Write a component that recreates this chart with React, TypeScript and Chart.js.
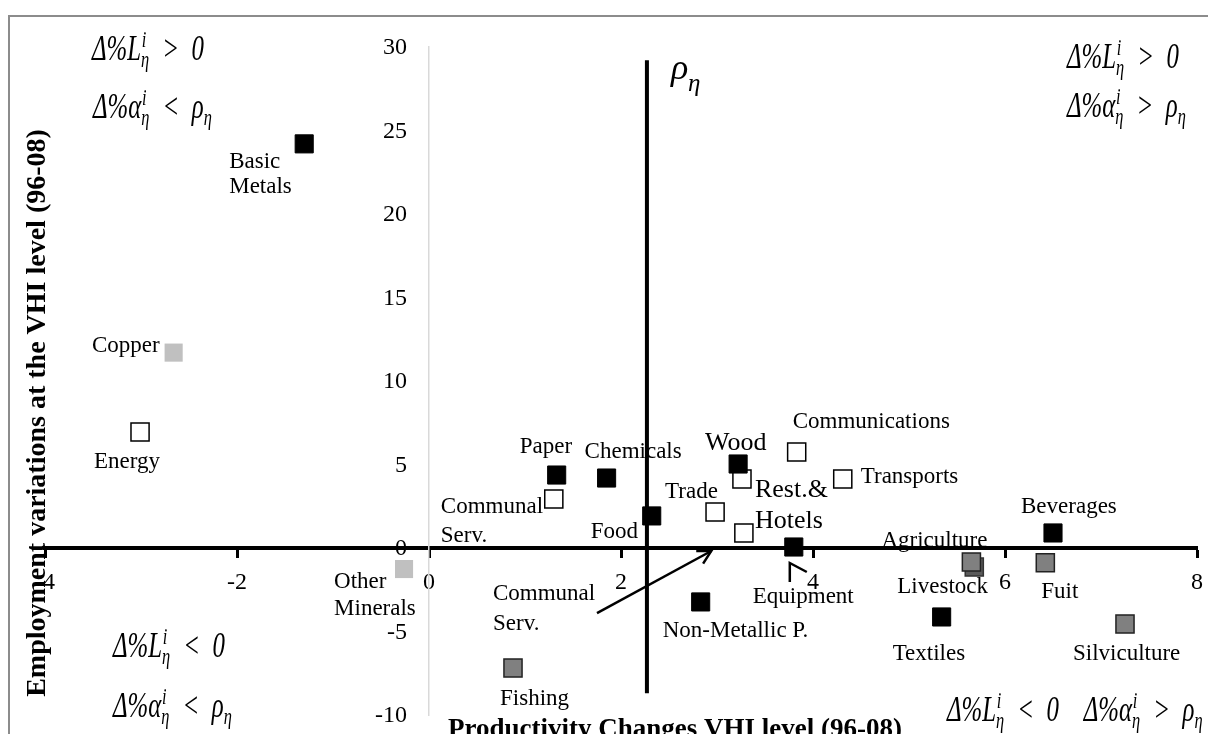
import React, { useEffect, useRef } from "react";
import { Chart, registerables } from "chart.js";
Chart.register(...registerables);

// ---------- DATA ----------
const blackNames = ["Basic Metals", "Paper", "Chemicals", "Food", "Wood", "Equipment", "Non-Metallic P.", "Beverages", "Textiles"];
const blackX = [-1.3, 1.33, 1.85, 2.32, 3.22, 3.8, 2.83, 6.5, 5.34];
const blackY = [24.2, 4.37, 4.19, 1.92, 5.03, 0.06, -3.23, 0.9, -4.13];

const whiteNames = ["Energy", "Communal Serv.", "Trade", "Rest.&Hotels", "Communal Serv. II", "Communications", "Transports"];
const whiteX = [-3.01, 1.3, 2.98, 3.26, 3.28, 3.83, 4.31];
const whiteY = [6.95, 2.93, 2.16, 4.13, 0.9, 5.75, 4.13];

const grayNames = ["Agriculture", "Fuit", "Silviculture", "Fishing"];
const grayX = [5.65, 6.42, 7.25, 0.875];
const grayY = [-0.84, -0.88, -4.55, -7.19];

const darkNames = ["Livestock"];
const darkX = [5.68];
const darkY = [-1.14];

const lightNames = ["Copper", "Other Minerals"];
const lightX = [-2.66, -0.26];
const lightY = [11.7, -1.26];

const rhoX = 2.27;
const rhoSpan = [29.2, -8.7];

const commArrowFrom = [1.75, -3.9];
const commArrowTo = [2.94, -0.18];

const xTickMin = -4;
const xTickMax = 8;
const xTickStep = 2;
const yTickMin = -10;
const yTickMax = 30;
const yTickStep = 5;

const xTitle = "Productivity Changes VHI level (96-08)";
const yTitle = "Employment variations at the VHI level (96-08)";

// ---------- LAYOUT / STYLE (not data) ----------
const FONT = '"Liberation Serif", "Times New Roman", serif';

type Lbl = { name: string; lines: string[]; dx: number; dy: number; lh?: number; size?: number; align?: CanvasTextAlign };
const pointLabels: Lbl[] = [
  { name: "Basic Metals", lines: ["Basic", "Metals"], dx: -75, dy: 24, lh: 25 },
  { name: "Copper", lines: ["Copper"], dx: -14, dy: -1, align: "right" },
  { name: "Energy", lines: ["Energy"], dx: -46, dy: 36 },
  { name: "Other Minerals", lines: ["Other", "Minerals"], dx: -70, dy: 19, lh: 27 },
  { name: "Paper", lines: ["Paper"], dx: -37, dy: -22 },
  { name: "Communal Serv.", lines: ["Communal", "Serv."], dx: -113, dy: 14, lh: 29 },
  { name: "Chemicals", lines: ["Chemicals"], dx: -22, dy: -20 },
  { name: "Food", lines: ["Food"], dx: -61, dy: 22 },
  { name: "Trade", lines: ["Trade"], dx: -50, dy: -14 },
  { name: "Wood", lines: ["Wood"], dx: -33, dy: -14, size: 26 },
  { name: "Rest.&Hotels", lines: ["Rest.&", "Hotels"], dx: 13, dy: 18, lh: 31, size: 26 },
  { name: "Communications", lines: ["Communications"], dx: -4, dy: -24 },
  { name: "Transports", lines: ["Transports"], dx: 18, dy: 4 },
  { name: "Equipment", lines: ["Equipment"], dx: -41, dy: 56 },
  { name: "Non-Metallic P.", lines: ["Non-Metallic P."], dx: -38, dy: 35 },
  { name: "Beverages", lines: ["Beverages"], dx: -32, dy: -20 },
  { name: "Agriculture", lines: ["Agriculture"], dx: -90, dy: -15 },
  { name: "Livestock", lines: ["Livestock"], dx: -77, dy: 26 },
  { name: "Fuit", lines: ["Fuit"], dx: -4, dy: 35 },
  { name: "Textiles", lines: ["Textiles"], dx: -49, dy: 43 },
  { name: "Silviculture", lines: ["Silviculture"], dx: -52, dy: 36 },
  { name: "Fishing", lines: ["Fishing"], dx: -13, dy: 37 },
];

type Seg = { t: string; sup?: string; sub?: string };
const EN = "\u2002";
const segL_gt: Seg[] = [{ t: "Δ%L", sup: "i", sub: "η" }, { t: EN + ">" + EN + "0" }];
const segL_lt: Seg[] = [{ t: "Δ%L", sup: "i", sub: "η" }, { t: EN + "<" + EN + "0" }];
const segA_lt: Seg[] = [{ t: "Δ%α", sup: "i", sub: "η" }, { t: EN + "<" + EN + "ρ", sub: "η" }];
const segA_gt: Seg[] = [{ t: "Δ%α", sup: "i", sub: "η" }, { t: EN + ">" + EN + "ρ", sub: "η" }];
const segBR: Seg[] = [
  { t: "Δ%L", sup: "i", sub: "η" },
  { t: EN + "<" + EN + "0" + EN + EN + "Δ%α", sup: "i", sub: "η" },
  { t: EN + ">" + EN + "ρ", sub: "η" },
];

function pts(xs: number[], ys: number[], names: string[]) {
  return xs.map((x, i) => ({ x, y: ys[i], name: names[i] }));
}

function drawMath(ctx: CanvasRenderingContext2D, x: number, y: number, segs: Seg[], size: number, sx: number) {
  ctx.save();
  ctx.translate(x, y);
  ctx.scale(sx, 1);
  ctx.fillStyle = "#000";
  ctx.textAlign = "left";
  ctx.textBaseline = "alphabetic";
  let cx = 0;
  const small = size * 0.66;
  for (const s of segs) {
    ctx.font = `italic ${size}px ${FONT}`;
    ctx.fillText(s.t, cx, 0);
    cx += ctx.measureText(s.t).width;
    if (s.sup || s.sub) {
      ctx.font = `italic ${small}px ${FONT}`;
      let w = 0;
      if (s.sup) {
        ctx.fillText(s.sup, cx + 1, -size * 0.36);
        w = Math.max(w, ctx.measureText(s.sup).width + 1);
      }
      if (s.sub) {
        ctx.fillText(s.sub, cx, size * 0.2);
        w = Math.max(w, ctx.measureText(s.sub).width);
      }
      cx += w + 1;
    }
  }
  ctx.restore();
}

function arrowHead(ctx: CanvasRenderingContext2D, tx: number, ty: number, ang: number, len: number, half: number) {
  ctx.beginPath();
  ctx.moveTo(tx + len * Math.cos(ang + half), ty + len * Math.sin(ang + half));
  ctx.lineTo(tx, ty);
  ctx.lineTo(tx + len * Math.cos(ang - half), ty + len * Math.sin(ang - half));
  ctx.stroke();
}

const framePlugin = {
  id: "frame",
  beforeDraw(chart: any) {
    const ctx = chart.ctx;
    ctx.save();
    ctx.strokeStyle = "#8c8c8c";
    ctx.lineWidth = 2;
    ctx.beginPath();
    ctx.moveTo(1, chart.height);
    ctx.lineTo(1, 8);
    ctx.lineTo(1203, 8);
    ctx.lineTo(1203, chart.height);
    ctx.stroke();
    ctx.restore();
  },
};

const annotPlugin = {
  id: "annot",
  afterDraw(chart: any) {
    const ctx: CanvasRenderingContext2D = chart.ctx;
    const ca = chart.chartArea;
    const xs = chart.scales.x;
    const ys = chart.scales.y;
    ctx.save();
    ctx.fillStyle = "#000";
    ctx.strokeStyle = "#000";

    // y tick labels (from the scale's own ticks)
    const ax = xs.getPixelForValue(0);
    ctx.font = `24px ${FONT}`;
    ctx.textAlign = "right";
    ctx.textBaseline = "middle";
    for (const t of ys.ticks) {
      ctx.fillText(String(t.value), ax - 22, ys.getPixelForValue(t.value) + 1);
    }

    // find point pixels by name
    const pos: Record<string, { x: number; y: number }> = {};
    chart.data.datasets.forEach((ds: any, di: number) => {
      const meta = chart.getDatasetMeta(di);
      ds.data.forEach((d: any, i: number) => {
        if (d.name) pos[d.name] = { x: meta.data[i].x, y: meta.data[i].y };
      });
    });

    // point labels
    ctx.textBaseline = "alphabetic";
    for (const l of pointLabels) {
      const p = pos[l.name];
      if (!p) continue;
      const size = l.size || 23;
      ctx.font = `${size}px ${FONT}`;
      ctx.textAlign = l.align || "left";
      l.lines.forEach((t, k) => ctx.fillText(t, p.x + l.dx, p.y + l.dy + k * (l.lh || 28)));
    }

    // Equipment arrow head
    const eq = pos["Equipment"];
    if (eq) {
      ctx.lineWidth = 2.5;
      const tx = eq.x - 4, ty = eq.y + 16;
      ctx.beginPath();
      ctx.moveTo(tx, ty + 19);
      ctx.lineTo(tx, ty);
      ctx.lineTo(tx + 17, ty + 9);
      ctx.stroke();
    }

    // Communal Serv. arrow
    const fx = xs.getPixelForValue(commArrowFrom[0]);
    const fy = ys.getPixelForValue(commArrowFrom[1]);
    const tx2 = xs.getPixelForValue(commArrowTo[0]);
    const ty2 = ys.getPixelForValue(commArrowTo[1]);
    ctx.lineWidth = 2.5;
    ctx.beginPath();
    ctx.moveTo(fx, fy);
    ctx.lineTo(tx2, ty2);
    ctx.stroke();
    const ang = Math.atan2(fy - ty2, fx - tx2);
    arrowHead(ctx, tx2, ty2, ang, 15, 0.5);
    ctx.font = `23px ${FONT}`;
    ctx.textAlign = "left";
    ctx.fillText("Communal", fx - 104, fy - 13);
    ctx.fillText("Serv.", fx - 104, fy + 17);

    // rho label
    const rx = xs.getPixelForValue(rhoX);
    const rt = ys.getPixelForValue(rhoSpan[0]);
    drawMath(ctx, rx + 24, rt + 19, [{ t: "ρ" }], 36, 1);
    ctx.font = `italic 25px ${FONT}`;
    ctx.fillText("η", rx + 41, rt + 31);

    // quadrant labels
    const S = 36, SX = 0.69;
    drawMath(ctx, ca.left + 47, ca.top + 13, segL_gt, S, SX);
    drawMath(ctx, ca.left + 48, ca.top + 71, segA_lt, S, SX);
    drawMath(ctx, ca.right - 130, ca.top + 21, segL_gt, S, SX);
    drawMath(ctx, ca.right - 130, ca.top + 70, segA_gt, S, SX);
    drawMath(ctx, ca.left + 68, ca.bottom - 58, segL_lt, S, SX);
    drawMath(ctx, ca.left + 68, ca.bottom + 2, segA_lt, S, SX);
    drawMath(ctx, ca.right - 250, ca.bottom + 6, segBR, S, SX);

    // axis titles
    ctx.font = `bold 27px ${FONT}`;
    ctx.textAlign = "center";
    ctx.textBaseline = "alphabetic";
    ctx.fillText(xTitle, ca.left + 630, ca.bottom + 22);
    ctx.save();
    ctx.translate(ca.left - 7, ca.top + 366);
    ctx.rotate(-Math.PI / 2);
    ctx.font = `bold 28px ${FONT}`;
    ctx.textBaseline = "middle";
    ctx.fillText(yTitle, 0, 0);
    ctx.restore();

    ctx.restore();
  },
};

export default function App() {
  const ref = useRef<HTMLCanvasElement | null>(null);
  useEffect(() => {
    if (!ref.current) return;
    const sq = { pointStyle: "rect" as const, pointRadius: 12.8, pointHoverRadius: 12.8 };
    const chart = new Chart(ref.current, {
      type: "scatter",
      data: {
        datasets: [
          { label: "black", data: pts(blackX, blackY, blackNames), backgroundColor: "#000", borderColor: "#000", borderWidth: 1, ...sq },
          { label: "white", data: pts(whiteX, whiteY, whiteNames), backgroundColor: "#fff", borderColor: "#000", borderWidth: 1.5, ...sq },
          { label: "gray", data: pts(grayX, grayY, grayNames), backgroundColor: "#808080", borderColor: "#222", borderWidth: 1.5, ...sq },
          { label: "dark", data: pts(darkX, darkY, darkNames), backgroundColor: "#5a5a5a", borderColor: "#333", borderWidth: 1.5, ...sq },
          { label: "light", data: pts(lightX, lightY, lightNames), backgroundColor: "#c0c0c0", borderColor: "#c0c0c0", borderWidth: 0, ...sq },
          {
            type: "line" as const,
            label: "rho",
            data: [{ x: rhoX, y: rhoSpan[0] }, { x: rhoX, y: rhoSpan[1] }],
            borderColor: "#000",
            borderWidth: 4,
            pointRadius: 0,
            showLine: true,
            fill: false,
          } as any,
        ],
      },
      options: {
        animation: false,
        responsive: false,
        maintainAspectRatio: false,
        devicePixelRatio: 1,
        events: [],
        layout: { padding: { left: 37, top: 39, right: 19, bottom: 27 } },
        plugins: { legend: { display: false }, tooltip: { enabled: false } },
        scales: {
          x: {
            type: "linear",
            min: xTickMin,
            max: xTickMax,
            position: { y: 0 } as any,
            ticks: { stepSize: xTickStep, color: "#000", font: { family: FONT, size: 24 }, padding: 12 },
            grid: { display: true, drawOnChartArea: false, drawTicks: true, tickLength: 8, tickWidth: 3, tickColor: "#000" },
            border: { display: true, color: "#000", width: 4 },
            afterFit: (s: any) => { s.height = 0; },
          },
          y: {
            type: "linear",
            min: yTickMin,
            max: yTickMax,
            position: { x: 0 } as any,
            ticks: { stepSize: yTickStep, display: false },
            grid: { display: false },
            border: { display: true, color: "#d9d9d9", width: 1.5 },
            afterFit: (s: any) => { s.width = 0; },
          },
        },
      },
      plugins: [framePlugin, annotPlugin],
    });
    return () => chart.destroy();
  }, []);
  return (
    <div style={{ position: "relative", width: 1200, height: 726 }}>
      <canvas ref={ref} width={1208} height={734} style={{ position: "absolute", left: 0, top: 0, display: "block" }} />
    </div>
  );
}
